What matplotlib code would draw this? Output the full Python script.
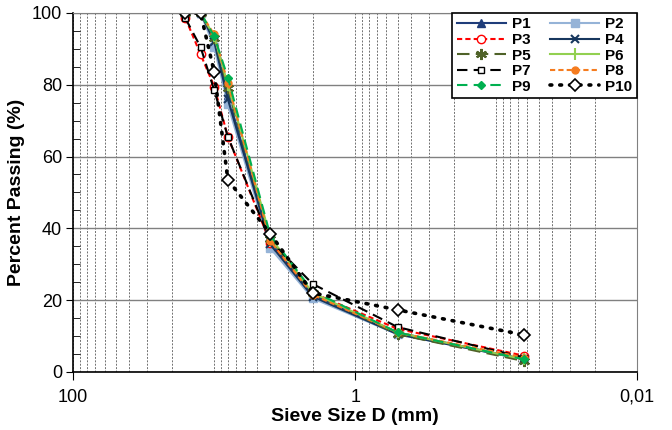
import matplotlib
matplotlib.use("Agg")
import matplotlib.pyplot as plt
from matplotlib.ticker import FixedLocator, NullFormatter
import numpy as np

plt.rcParams['font.family'] = ['Liberation Sans', 'DejaVu Sans']

# sieve sizes (mm)
sizes = [16, 12.5, 10, 8, 4, 2, 0.5, 0.063]

# percent passing per sample
p1 = [100, 100, 92.0, 77.0, 36.0, 21.5, 11.0, 3.5]
p2 = [100, 100, 90.5, 74.5, 34.5, 20.5, 10.5, 3.5]
p3 = [98.5, 88.5, 79.5, 65.5, 36.0, 22.0, 12.0, 4.5]
p4 = [100, 100, 92.0, 76.0, 35.5, 21.0, 10.5, 3.5]
p5 = [100, 100, 93.0, 79.0, 37.0, 22.0, 10.5, 3.0]
p6 = [100, 100, 93.5, 80.0, 37.5, 22.0, 11.0, 3.5]
p7 = [98.5, 90.5, 78.5, 65.5, 36.5, 24.5, 12.5, 4.0]
p8 = [100, 100, 94.0, 80.5, 36.5, 21.5, 11.0, 4.0]
p9 = [100, 100, 93.5, 82.0, 38.0, 22.5, 11.0, 3.5]
p10 = [100, 100, 83.5, 53.5, 38.5, 22.0, 17.3, 10.3]

series = [
    ("P1", p1, dict(color="#1F3D7A", ls="-", marker="^", ms=6, mfc="#1F3D7A")),
    ("P2", p2, dict(color="#95B3D7", ls="-", marker="s", ms=6, mfc="#95B3D7")),
    ("P3", p3, dict(color="#FF0000", ls=(0, (2.5, 1.5)), marker="o", ms=6, mfc="white")),
    ("P4", p4, dict(color="#17375E", ls="-", marker="x", ms=6, mew=1.5)),
    ("P5", p5, dict(color="#4F6228", ls=(0, (6, 3)), marker=(6, 2, 0), ms=8, mew=1.5)),
    ("P6", p6, dict(color="#92D050", ls="-", marker="|", ms=8, mew=1.5)),
    ("P7", p7, dict(color="black", ls=(0, (5, 3)), marker="s", ms=5, mfc="white")),
    ("P8", p8, dict(color="#F57C1F", ls=(0, (2.5, 1.5)), marker="o", ms=5, mfc="#F57C1F")),
    ("P9", p9, dict(color="#00B050", ls=(0, (5, 3)), marker="D", ms=4, mfc="#00B050")),
    ("P10", p10, dict(color="black", ls=(0, (0.5, 2.2)), lw=2.6, dash_capstyle="round",
                      marker="D", ms=6, mfc="white", mew=1.2)),
]

fig = plt.figure(figsize=(6.72, 4.3), dpi=100)
ax = fig.add_axes([0.109, 0.135, 0.839, 0.835])

handles = []
for name, vals, st in series:
    kw = dict(lw=1.5)
    kw.update(st)
    h, = ax.plot(sizes, vals, label=name, **kw)
    handles.append(h)

ax.set_xscale("log")
ax.set_xlim(100, 0.01)
ax.set_ylim(0, 100)

ax.xaxis.set_major_locator(FixedLocator([100, 1, 0.01]))
ax.set_xticklabels(["100", "1", "0,01"])
minors = []
for dec in [10, 1, 0.1, 0.01]:
    for k in range(1, 10):
        v = dec * k
        if v not in (100, 1, 0.01):
            minors.append(v)
ax.xaxis.set_minor_locator(FixedLocator(minors))
ax.xaxis.set_minor_formatter(NullFormatter())

ax.set_yticks([0, 20, 40, 60, 80, 100])
ax.set_yticks(np.arange(0, 101, 5), minor=True)

ax.grid(True, which="minor", axis="x", color="#707070", ls=(0, (2, 1.5)), lw=0.7)
ax.grid(True, which="major", axis="x", color="#707070", ls=(0, (2, 1.5)), lw=0.7)
ax.grid(True, which="major", axis="y", color="#808080", ls="-", lw=1.0)

ax.tick_params(axis="x", which="major", direction="out", length=6, labelsize=13, pad=6)
ax.tick_params(axis="x", which="minor", length=0)
ax.tick_params(axis="y", which="major", direction="out", length=5, labelsize=13, pad=3)
ax.tick_params(axis="y", which="minor", direction="in", length=5)

for s in ["top", "right"]:
    ax.spines[s].set_color("#808080")
for s in ["left", "bottom"]:
    ax.spines[s].set_color("black")
    ax.spines[s].set_linewidth(1.2)

ax.set_xlabel("Sieve Size D (mm)", fontsize=14, fontweight="bold", labelpad=2)
ax.set_ylabel("Percent Passing (%)", fontsize=14, fontweight="bold", labelpad=5)

# legend filled row by row: P1 P2 / P3 P4 / ...
order = [0, 2, 4, 6, 8, 1, 3, 5, 7, 9]
leg = ax.legend([handles[i] for i in order], [series[i][0] for i in order],
                ncol=2, loc="upper right", fancybox=False, framealpha=1,
                edgecolor="black", prop=dict(weight="bold", size=11),
                handlelength=3.2, columnspacing=1.3, labelspacing=0.1,
                borderaxespad=0.0, handletextpad=0.4, borderpad=0.3)
leg.get_frame().set_linewidth(1.2)

fig.savefig("out.png", dpi=100)
